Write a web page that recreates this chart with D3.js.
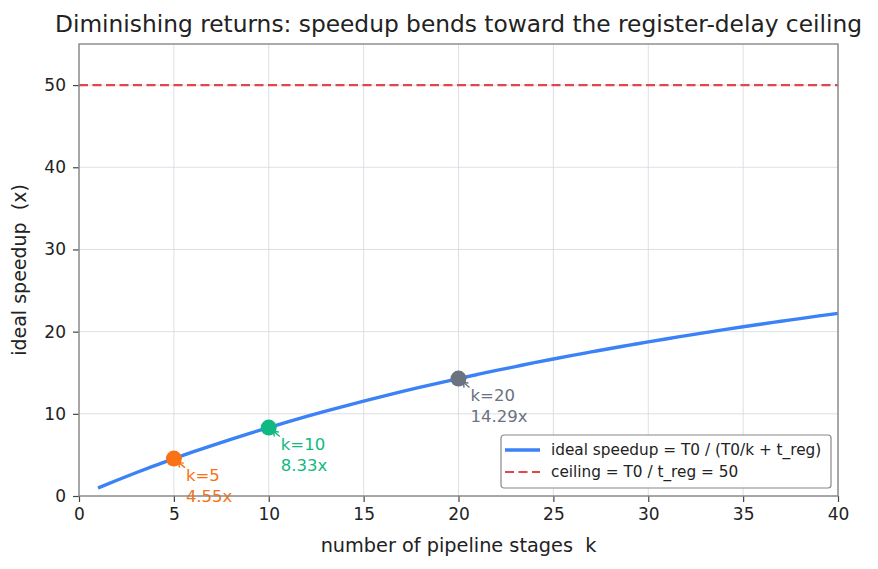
<!DOCTYPE html>
<html>
<head>
<meta charset="utf-8">
<script src="https://cdn.jsdelivr.net/npm/d3@7"></script>
<style>
  body { margin: 0; background: #fff; }
  svg, svg text { font-family: "DejaVu Sans", sans-serif; white-space: pre; }
</style>
</head>
<body>
<div id="chart"></div>
<script>
// data
const stages = d3.range(1, 41);
const speedup = [0.98, 1.92, 2.83, 3.70, 4.55, 5.36, 6.14, 6.90, 7.63, 8.33,
  9.02, 9.68, 10.32, 10.94, 11.54, 12.12, 12.69, 13.24, 13.77, 14.29,
  14.79, 15.28, 15.75, 16.22, 16.67, 17.11, 17.53, 17.95, 18.35, 18.75,
  19.14, 19.51, 19.88, 20.24, 20.59, 20.93, 21.26, 21.59, 21.91, 22.22];
const ceiling = 50;
const markedK = [5, 10, 20];
const markedVal = [4.55, 8.33, 14.29];
const markedColor = ["#f97316", "#10b981", "#6b7280"];
const xTicks = [0, 5, 10, 15, 20, 25, 30, 35, 40];
const yTicks = [0, 10, 20, 30, 40, 50];

const width = 878, height = 569;
const margin = { top: 44, right: 40, bottom: 73, left: 79 };
const innerW = width - margin.left - margin.right;
const innerH = height - margin.top - margin.bottom;

const svg = d3.select("#chart").append("svg")
  .attr("width", width)
  .attr("height", height);

const g = svg.append("g")
  .attr("transform", `translate(${margin.left},${margin.top})`);

const x = d3.scaleLinear().domain([0, 40]).range([0, innerW]);
const y = d3.scaleLinear().domain([0, 55]).range([innerH, 0]);

// grid
g.selectAll(".gx").data(xTicks).enter().append("line")
  .attr("x1", d => x(d)).attr("x2", d => x(d))
  .attr("y1", 0).attr("y2", innerH)
  .attr("stroke", "#d3d8de").attr("stroke-width", 0.8);
g.selectAll(".gy").data(yTicks).enter().append("line")
  .attr("x1", 0).attr("x2", innerW)
  .attr("y1", d => y(d)).attr("y2", d => y(d))
  .attr("stroke", "#d3d8de").attr("stroke-width", 0.8);

// axes
const xAxis = g.append("g")
  .attr("transform", `translate(0,${innerH})`)
  .call(d3.axisBottom(x).tickValues(xTicks).tickSize(6).tickPadding(6));
const yAxis = g.append("g")
  .call(d3.axisLeft(y).tickValues(yTicks).tickSize(6).tickPadding(7));
[xAxis, yAxis].forEach(a => {
  a.attr("font-family", "DejaVu Sans").attr("font-size", 17);
  a.select(".domain").remove();
  a.selectAll(".tick line").attr("stroke", "#444").attr("stroke-width", 1.2);
  a.selectAll(".tick text").attr("fill", "#222");
});

// ceiling line
g.append("line")
  .attr("x1", 0).attr("x2", innerW)
  .attr("y1", y(ceiling)).attr("y2", y(ceiling))
  .attr("stroke", "#e0474c").attr("stroke-width", 2.2)
  .attr("stroke-dasharray", "9,4.5");

// speedup curve
const line = d3.line()
  .x((d, i) => x(stages[i]))
  .y(d => y(d))
  .curve(d3.curveMonotoneX);
g.append("path")
  .datum(speedup)
  .attr("d", line)
  .attr("fill", "none")
  .attr("stroke", "#3b82f6")
  .attr("stroke-width", 3.4);

// marked points + annotations
markedK.forEach((k, i) => {
  const px = x(k), py = y(markedVal[i]);
  const c = markedColor[i];
  // small arrow from text toward the point
  g.append("line")
    .attr("x1", px + 11).attr("y1", py + 9)
    .attr("x2", px + 5).attr("y2", py + 4)
    .attr("stroke", c).attr("stroke-width", 1.4);
  g.append("path")
    .attr("d", `M${px + 5},${py + 4} l5,0.5 M${px + 5},${py + 4} l0.5,5`)
    .attr("stroke", c).attr("stroke-width", 1.4).attr("fill", "none");
  g.append("circle")
    .attr("cx", px).attr("cy", py).attr("r", 8)
    .attr("fill", c);
  const t = g.append("text")
    .attr("x", px + 12).attr("y", py + 22)
    .attr("fill", c)
    .style("font-size", "16.5px");
  t.append("tspan").attr("x", px + 12).text(`k=${k}`);
  t.append("tspan").attr("x", px + 12).attr("dy", 21).text(`${markedVal[i].toFixed(2)}x`);
});

// frame
g.append("rect")
  .attr("width", innerW).attr("height", innerH)
  .attr("fill", "none").attr("stroke", "#888").attr("stroke-width", 1.4);

// legend
const lg = g.append("g")
  .attr("transform", `translate(${501 - margin.left},${435 - margin.top})`);
lg.append("rect")
  .attr("width", 330).attr("height", 53)
  .attr("rx", 3)
  .attr("fill", "#fff").attr("fill-opacity", 0.9)
  .attr("stroke", "#888").attr("stroke-width", 1.2);
lg.append("line")
  .attr("x1", 4).attr("x2", 39).attr("y1", 15).attr("y2", 15)
  .attr("stroke", "#3b82f6").attr("stroke-width", 3.4);
lg.append("line")
  .attr("x1", 4).attr("x2", 39).attr("y1", 37).attr("y2", 37)
  .attr("stroke", "#e0474c").attr("stroke-width", 2.2)
  .attr("stroke-dasharray", "9,4.5");
lg.append("text").attr("x", 50).attr("y", 20)
  .style("font-size", "15.3px").attr("fill", "#222")
  .text("ideal speedup = T0 / (T0/k + t_reg)");
lg.append("text").attr("x", 50).attr("y", 42)
  .style("font-size", "15.3px").attr("fill", "#222")
  .text("ceiling = T0 / t_reg = 50");

// titles
svg.append("text")
  .attr("x", margin.left + innerW / 2).attr("y", 32)
  .attr("text-anchor", "middle")
  .style("font-size", "23.3px").attr("fill", "#222")
  .text("Diminishing returns: speedup bends toward the register-delay ceiling");
svg.append("text")
  .attr("x", margin.left + innerW / 2).attr("y", 552)
  .attr("text-anchor", "middle")
  .style("font-size", "19.3px").attr("fill", "#222")
  .text("number of pipeline stages  k");
svg.append("text")
  .attr("transform", `translate(26,${margin.top + innerH / 2}) rotate(-90)`)
  .attr("text-anchor", "middle")
  .style("font-size", "19px").attr("fill", "#222")
  .text("ideal speedup  (x)");
</script>
</body>
</html>
